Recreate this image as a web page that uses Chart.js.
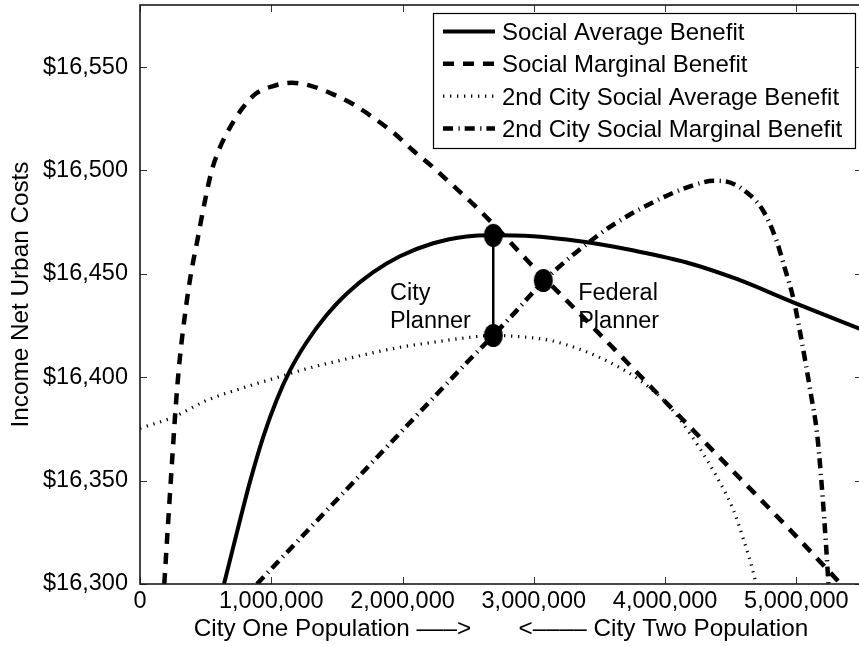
<!DOCTYPE html>
<html>
<head>
<meta charset="utf-8">
<title>City size and income net of urban costs</title>
<script src="https://cdn.jsdelivr.net/npm/chart.js@4/dist/chart.umd.min.js"></script>
<style>
  html, body { margin: 0; padding: 0; background: #fff; overflow: hidden; width: 859px; height: 646px; }
  #wrap { width: 866px; height: 646px; }
  canvas { display: block; }
</style>
</head>
<body>
<div id="wrap"><canvas id="chart" width="866" height="646"></canvas></div>
<script>
// Population of city one (persons) and income net of urban costs ($ per resident)

// Social Average Benefit
const sabPop    = [640000, 762000, 838000, 939000, 1041000, 1143000, 1269000, 1422000, 1574000, 1777000, 1980000, 2234000, 2488000, 2691000, 2995000, 3250000, 3503000, 3732000, 4164000, 4545000, 4976000, 5500000];
const sabIncome = [16300, 16330.9, 16349.5, 16371.2, 16389.0, 16403.3, 16416.9, 16430.1, 16440.4, 16450.8, 16458.5, 16464.8, 16468.1, 16468.7, 16468.2, 16466.6, 16464.3, 16461.6, 16455.5, 16447.5, 16436.2, 16423.0];

// Social Marginal Benefit
const smbPop    = [185000, 215500, 241400, 266600, 283700, 304300, 350000, 388000, 436400, 489700, 546000, 609000, 685000, 775000, 876000, 1015000, 1155000, 1308000, 1472000, 1625000, 1777000, 1930000, 2082000, 2234000, 2386000, 2538000, 2691000, 2945000, 3427000, 3909000, 4417000, 5001000, 5339000];
const smbIncome = [16300, 16330.9, 16356.6, 16380.7, 16395.2, 16409.7, 16433.8, 16450.0, 16466.0, 16483.7, 16499.8, 16511.1, 16520.7, 16529.6, 16536.8, 16540.8, 16542.4, 16540.8, 16536.8, 16532.0, 16525.5, 16518.3, 16509.5, 16501.4, 16492.6, 16483.7, 16474.0, 16456.8, 16425.7, 16394.2, 16361.1, 16322.9, 16300];

// 2nd City Social Average Benefit
const sab2Pop    = [0, 254000, 508000, 762000, 1015000, 1270000, 1523000, 1980000, 2234000, 2488000, 2691000, 2869000, 3123000, 3376000, 3630000, 3808000, 3986000, 4113000, 4265000, 4392000, 4519000, 4595000, 4684000, 4692000];
const sab2Income = [16375.3, 16380.7, 16388.8, 16394.4, 16399.3, 16404.1, 16408.1, 16414.5, 16416.9, 16419.1, 16420.2, 16419.7, 16417.8, 16412.9, 16405.5, 16398.5, 16389.0, 16379.5, 16365.5, 16352.0, 16336.0, 16322.0, 16302.5, 16300];

// 2nd City Social Marginal Benefit
const smb2Pop    = [891000, 1117000, 1346000, 1523000, 1752000, 1980000, 2234000, 2488000, 2691000, 2869000, 3072000, 3503000, 3707000, 3808000, 3960000, 4113000, 4265000, 4366000, 4468000, 4621000, 4747000, 4849000, 4910000, 4981000, 5021000, 5067000, 5110000, 5158000, 5188000, 5213000, 5238000, 5244000];
const smb2Income = [16300, 16315.1, 16330.5, 16342.3, 16357.7, 16373.0, 16390.0, 16407.0, 16420.2, 16432.2, 16446.3, 16469.3, 16477.7, 16481.3, 16486.2, 16490.5, 16493.8, 16495.0, 16494.6, 16489.4, 16480.5, 16466.0, 16453.1, 16437.1, 16424.2, 16408.1, 16392.0, 16372.7, 16351.8, 16330.9, 16306.8, 16300];

// Planner optima
const cityPlannerPop    = [2691000, 2691000];
const cityPlannerIncome = [16468.6, 16420.2];
const federalPlannerPop    = [3072000];
const federalPlannerIncome = [16446.8];

// Axis ticks
const xTickValues = [0, 1000000, 2000000, 3000000, 4000000, 5000000];
const yTickValues = [16300, 16350, 16400, 16450, 16500, 16550];

const seriesLabels = [
  'Social Average Benefit',
  'Social Marginal Benefit',
  '2nd City Social Average Benefit',
  '2nd City Social Marginal Benefit'
];

const FONT_FAMILY = '"Liberation Sans", Arial, Helvetica, sans-serif';
const TICK_SIZE = 23.5;
const LABEL_SIZE = 24.3;
const LEGEND_SIZE = 24;
const INK = '#000';

const toPoints = (xs, ys) => xs.map((x, i) => ({ x, y: ys[i] }));

// Filled ellipse used as the optimum marker
function ellipseMarker(rx, ry) {
  const c = document.createElement('canvas');
  c.width = Math.ceil(rx * 2 + 2);
  c.height = Math.ceil(ry * 2 + 2);
  const g = c.getContext('2d');
  g.fillStyle = '#000';
  g.beginPath();
  g.ellipse(c.width / 2, c.height / 2, rx, ry, 0, 0, Math.PI * 2);
  g.fill();
  return c;
}
const marker = ellipseMarker(9.5, 11.5);

const curve = (label, xs, ys, width, dash, order) => ({
  label,
  data: toPoints(xs, ys),
  showLine: true,
  borderColor: '#000',
  backgroundColor: '#000',
  borderWidth: width,
  borderDash: dash,
  pointRadius: 0,
  cubicInterpolationMode: 'monotone',
  inLegend: true,
  order
});

const datasets = [
  curve(seriesLabels[0], sabPop, sabIncome, 4, [], 3),
  curve(seriesLabels[1], smbPop, smbIncome, 4.5, [11, 9], 4),
  curve(seriesLabels[2], sab2Pop, sab2Income, 3.2, [1.3, 5.7], 5),
  curve(seriesLabels[3], smb2Pop, smb2Income, 4.5, [10, 5.5, 1.2, 5], 6),
  {
    label: 'City planner gap',
    data: toPoints(cityPlannerPop, cityPlannerIncome),
    showLine: true,
    borderColor: '#000',
    borderWidth: 2.5,
    pointRadius: 0,
    order: 2
  },
  {
    label: 'Optima',
    data: toPoints(cityPlannerPop, cityPlannerIncome).concat(toPoints(federalPlannerPop, federalPlannerIncome)),
    showLine: false,
    pointStyle: marker,
    pointRadius: 10,
    order: 1
  }
];

// Text notes placed in data coordinates (first baseline)
const notes = [
  { lines: ['City', 'Planner'], x: 1904000, y: 16437.4 },
  { lines: ['Federal', 'Planner'], x: 3338000, y: 16437.4 }
];
const NOTE_LINE_GAP = 28.3;

// Box around the axes with inward tick marks on all four sides
const framePlugin = {
  id: 'frame',
  afterDatasetsDraw(chart) {
    const { ctx, chartArea: a, scales } = chart;
    ctx.save();
    ctx.strokeStyle = '#333';
    ctx.lineWidth = 1;
    const len = 7;
    ctx.beginPath();
    xTickValues.forEach(v => {
      const px = Math.round(scales.x.getPixelForValue(v)) + 0.5;
      ctx.moveTo(px, a.bottom); ctx.lineTo(px, a.bottom - len);
      ctx.moveTo(px, a.top); ctx.lineTo(px, a.top + len);
    });
    yTickValues.forEach(v => {
      const py = Math.round(scales.y.getPixelForValue(v)) + 0.5;
      ctx.moveTo(a.left, py); ctx.lineTo(a.left + len, py);
      ctx.moveTo(a.right, py); ctx.lineTo(a.right - len, py);
    });
    ctx.stroke();
    ctx.strokeStyle = '#1a1a1a';
    ctx.lineWidth = 1.6;
    ctx.strokeRect(a.left, a.top, a.right - a.left, a.bottom - a.top);
    ctx.restore();
  }
};

const notesPlugin = {
  id: 'notes',
  afterDatasetsDraw(chart) {
    const { ctx, scales } = chart;
    ctx.save();
    ctx.fillStyle = INK;
    ctx.font = TICK_SIZE + 'px ' + FONT_FAMILY;
    ctx.textAlign = 'left';
    ctx.textBaseline = 'alphabetic';
    notes.forEach(n => {
      const px = scales.x.getPixelForValue(n.x);
      const py = scales.y.getPixelForValue(n.y);
      n.lines.forEach((t, i) => ctx.fillText(t, px, py + i * NOTE_LINE_GAP));
    });
    ctx.restore();
  }
};

// Boxed legend in the upper right corner of the axes
const boxLegendPlugin = {
  id: 'boxLegend',
  afterDraw(chart) {
    const { ctx, chartArea: a } = chart;
    const entries = chart.data.datasets.filter(d => d.inLegend);
    const right = a.right - 7, width = 422, top = a.top + 8, height = 135;
    const left = right - width;
    ctx.save();
    ctx.fillStyle = '#fff';
    ctx.fillRect(left, top, width, height);
    ctx.strokeStyle = '#000';
    ctx.lineWidth = 1.2;
    ctx.strokeRect(left + 0.5, top + 0.5, width, height);
    entries.forEach((d, i) => {
      const cy = top + 18.5 + i * 32.3;
      ctx.beginPath();
      ctx.setLineDash(d.borderDash || []);
      ctx.lineWidth = d.borderWidth;
      ctx.strokeStyle = d.borderColor;
      ctx.moveTo(left + 10, cy);
      ctx.lineTo(left + 62, cy);
      ctx.stroke();
      ctx.setLineDash([]);
      ctx.fillStyle = INK;
      ctx.font = LEGEND_SIZE + 'px ' + FONT_FAMILY;
      ctx.textAlign = 'left';
      ctx.textBaseline = 'middle';
      ctx.fillText(d.label, left + 69, cy + 2);
    });
    ctx.restore();
  }
};

const tickFont = { family: FONT_FAMILY, size: TICK_SIZE };
const labelFont = { family: FONT_FAMILY, size: LABEL_SIZE };

new Chart(document.getElementById('chart'), {
  type: 'scatter',
  data: { datasets },
  options: {
    responsive: false,
    animation: false,
    devicePixelRatio: 1,
    layout: { autoPadding: false, padding: { top: 5, right: 4, left: 0, bottom: 0 } },
    plugins: { legend: { display: false }, tooltip: { enabled: false } },
    scales: {
      x: {
        type: 'linear',
        min: 0,
        max: 5500000,
        grid: { display: false, drawTicks: false },
        border: { display: false },
        afterBuildTicks: s => { s.ticks = xTickValues.map(v => ({ value: v })); },
        afterFit: s => { s.height = 62; s.paddingLeft = 0; s.paddingRight = 0; },
        ticks: {
          color: INK, font: tickFont, padding: 3, maxRotation: 0, autoSkip: false,
          callback: v => v.toLocaleString('en-US')
        },
        title: {
          display: true,
          text: 'City One Population \u2013\u2013\u2013>       <\u2013\u2013\u2013\u2013 City Two Population',
          color: INK,
          font: labelFont,
          padding: { top: 0, bottom: 2 }
        }
      },
      y: {
        type: 'linear',
        min: 16300,
        max: 16580,
        grid: { display: false, drawTicks: false },
        border: { display: false },
        afterBuildTicks: s => { s.ticks = yTickValues.map(v => ({ value: v })); },
        afterFit: s => { s.width = 140; s.paddingTop = 0; s.paddingBottom = 0; },
        ticks: {
          color: INK, font: tickFont, padding: 12, autoSkip: false,
          callback: v => '$' + v.toLocaleString('en-US')
        },
        title: {
          display: true,
          text: 'Income Net Urban Costs',
          color: INK,
          font: labelFont,
          padding: { top: 7, bottom: 0 }
        }
      }
    }
  },
  plugins: [framePlugin, notesPlugin, boxLegendPlugin]
});
</script>
</body>
</html>
